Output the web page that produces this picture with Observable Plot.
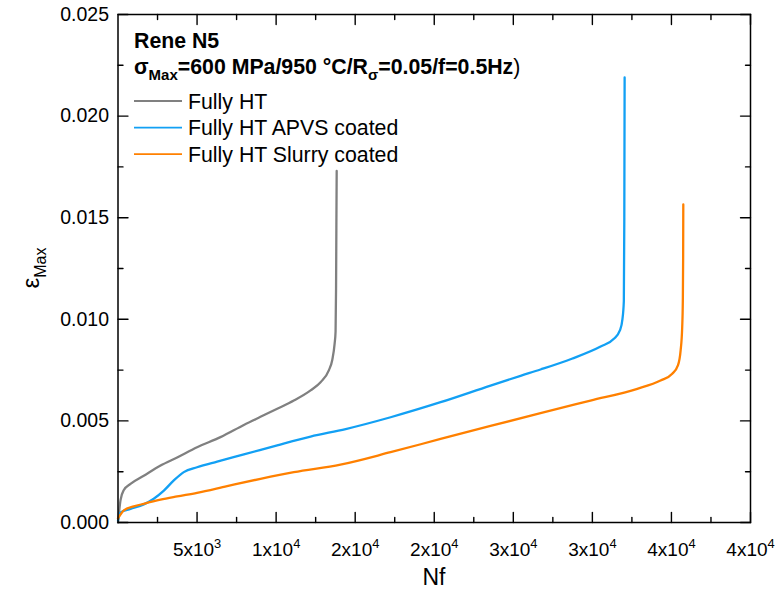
<!DOCTYPE html>
<html><head><meta charset="utf-8">
<script src="https://cdn.jsdelivr.net/npm/d3@7"></script>
<script src="https://cdn.jsdelivr.net/npm/@observablehq/plot@0.6"></script>
<style>
body{margin:0;background:#fff}
#chart{position:relative;width:775px;height:590px}
</style>
</head><body><div id="chart"></div>
<script>
// ---- data ----
const seriesNames = ["Fully HT", "Fully HT APVS coated", "Fully HT Slurry coated"];
const seriesColors = ["#808080", "#12a0f4", "#ff8000"];

const grayN = [0, 160, 370, 790, 1630, 2690, 3740, 5000, 6480, 7960, 9010, 10070, 11120, 12180, 12810, 13340, 13550, 13700, 13760, 13790, 13810, 13830];
const grayE = [0, 0.0011, 0.0016, 0.0019, 0.0023, 0.0028, 0.0032, 0.0037, 0.0042, 0.0048, 0.0052, 0.0056, 0.0060, 0.0065, 0.0069, 0.0075, 0.0080, 0.0088, 0.0094, 0.0115, 0.0145, 0.0173];

const blueN = [0, 160, 790, 1630, 2260, 2900, 3530, 4160, 5000, 6270, 7960, 10070, 12180, 14400, 17240, 20400, 23560, 25460, 26720, 28700, 30520, 31360, 31740, 31900, 31990, 32020, 32040];
const blueE = [0.0001, 0.0005, 0.00067, 0.00089, 0.00117, 0.00157, 0.00207, 0.00248, 0.00272, 0.0030, 0.00335, 0.0038, 0.00423, 0.0046, 0.00518, 0.00592, 0.00674, 0.00722, 0.00753, 0.00806, 0.00866, 0.00904, 0.00945, 0.0100, 0.0109, 0.0150, 0.0219];

const orangeN = [0, 370, 1000, 1630, 2690, 3740, 5000, 6900, 9010, 11120, 14070, 17240, 20400, 23560, 26720, 29880, 32840, 34310, 35050, 35410, 35580, 35680, 35720, 35740, 35750];
const orangeE = [0.0002, 0.0006, 0.00079, 0.00092, 0.00112, 0.00128, 0.00146, 0.00179, 0.00215, 0.00248, 0.00285, 0.00346, 0.00411, 0.00475, 0.00538, 0.00600, 0.00658, 0.00699, 0.00732, 0.00773, 0.00846, 0.0096, 0.0109, 0.0130, 0.01565];

const xMajor = [5000, 10000, 15000, 20000, 25000, 30000, 35000, 40000];
const xTickLabels = ["5x10^{3}", "1x10^{4}", "2x10^{4}", "2x10^{4}", "3x10^{4}", "3x10^{4}", "4x10^{4}", "4x10^{4}"];
const xMinor = [2500, 7500, 12500, 17500, 22500, 27500, 32500, 37500];
const yMajor = [0, 0.005, 0.010, 0.015, 0.020, 0.025];
const yMinor = [0.0025, 0.0075, 0.0125, 0.0175, 0.0225];

const titleLine1 = "Rene N5";
const xLabel = "Nf";

// ---- build table ----
const rows = [];
[[grayN, grayE], [blueN, blueE], [orangeN, orangeE]].forEach(([N, E], s) => {
  N.forEach((n, i) => rows.push({series: seriesNames[s], N: n, E: E[i]}));
});

const FONT = "'Liberation Sans', Arial, sans-serif";
const tickShape = {draw(ctx, l) { ctx.moveTo(0, 0); ctx.lineTo(0, -l); }};
const tk = (len) => ({stroke: "black", strokeWidth: 1.4, length: len, anchor: "start", shape: tickShape});

const chart = Plot.plot({
  width: 775, height: 590,
  marginTop: 14, marginRight: 25, marginBottom: 68, marginLeft: 117.5,
  style: {fontFamily: FONT, fontSize: "19px", color: "black", background: "white"},
  x: {domain: [0, 40000]},
  y: {domain: [0, 0.025]},
  color: {domain: seriesNames, range: seriesColors},
  marks: [
    Plot.line(rows, {x: "N", y: "E", z: "series", stroke: "series", strokeWidth: 2.3, strokeLinejoin: "round", curve: "monotone-x"}),
    // inward ticks on all four sides
    Plot.vectorX(xMajor, {x: d => d, frameAnchor: "bottom", rotate: 0, ...tk(10)}),
    Plot.vectorX(xMinor, {x: d => d, frameAnchor: "bottom", rotate: 0, ...tk(5)}),
    Plot.vectorX(xMajor, {x: d => d, frameAnchor: "top", rotate: 180, ...tk(10)}),
    Plot.vectorX(xMinor, {x: d => d, frameAnchor: "top", rotate: 180, ...tk(5)}),
    Plot.vectorY(yMajor, {y: d => d, frameAnchor: "left", rotate: 90, ...tk(10)}),
    Plot.vectorY(yMinor, {y: d => d, frameAnchor: "left", rotate: 90, ...tk(5)}),
    Plot.vectorY(yMajor, {y: d => d, frameAnchor: "right", rotate: -90, ...tk(10)}),
    Plot.vectorY(yMinor, {y: d => d, frameAnchor: "right", rotate: -90, ...tk(5)}),
    Plot.axisX(xMajor, {tickSize: 0, tickPadding: 20, fontSize: 19, label: null,
      tickFormat: d => xTickLabels[xMajor.indexOf(d)]}),
    Plot.axisY(yMajor, {tickSize: 0, tickPadding: 9, fontSize: 19.5, label: null,
      tickFormat: d3.format(".3f")}),
    Plot.frame({stroke: "black", strokeWidth: 1.5})
  ]
});
document.getElementById("chart").appendChild(chart);

const svg = d3.select(chart);

// rich text: a^{b} superscript, a_{b} subscript
function setRich(node, str, size) {
  const el = d3.select(node);
  el.text(null);
  const re = /([\^_])\{([^}]*)\}/g;
  let last = 0, m, shift = 0;
  const add = (t, target, fs) => {
    if (!t) return;
    el.append("tspan").attr("dy", target - shift).attr("font-size", fs).text(t);
    shift = target;
  };
  while ((m = re.exec(str))) {
    add(str.slice(last, m.index), 0, size);
    add(m[2], m[1] === "^" ? -0.42 * size : 0.28 * size, 0.68 * size);
    last = re.lastIndex;
  }
  add(str.slice(last), 0, size);
}
svg.selectAll("g[aria-label='x-axis tick label'] text").each(function() {
  setRich(this, this.textContent, 19);
});

// x label
svg.append("text").attr("x", 434).attr("y", 585).attr("text-anchor", "middle")
  .attr("font-size", 23).attr("font-family", FONT).text(xLabel);

// y label (rotated)
const yl = svg.append("text").attr("transform", "translate(39,268) rotate(-90)")
  .attr("text-anchor", "middle").attr("font-family", FONT).attr("font-size", 24);
yl.append("tspan").text("ε");
yl.append("tspan").attr("dy", 7).attr("font-size", 16).text("Max");

// legend block inside the plot
const LF = 21.3;
const lg = svg.append("g").attr("font-family", FONT).attr("text-anchor", "start");
lg.append("text").attr("x", 134).attr("y", 48).attr("font-size", LF).attr("font-weight", "bold").text(titleLine1);
const t2 = lg.append("text").attr("x", 134).attr("y", 74).attr("font-size", LF).attr("font-weight", "bold");
t2.append("tspan").text("σ");
t2.append("tspan").attr("dy", 6).attr("font-size", 15).text("Max");
t2.append("tspan").attr("dy", -6).text("=600 MPa/950 °C/R");
t2.append("tspan").attr("dy", 6).attr("font-size", 15).text("σ");
t2.append("tspan").attr("dy", -6).text("=0.05/f=0.5Hz");
t2.append("tspan").attr("font-weight", "normal").text(")");

seriesNames.forEach((name, i) => {
  const yb = 108.5 + i * 26.6;
  lg.append("line").attr("x1", 134).attr("x2", 182).attr("y1", yb - 7.5).attr("y2", yb - 7.5)
    .attr("stroke", seriesColors[i]).attr("stroke-width", 1.8);
  lg.append("text").attr("x", 188).attr("y", yb).attr("font-size", LF).text(name);
});
</script>
</body></html>
